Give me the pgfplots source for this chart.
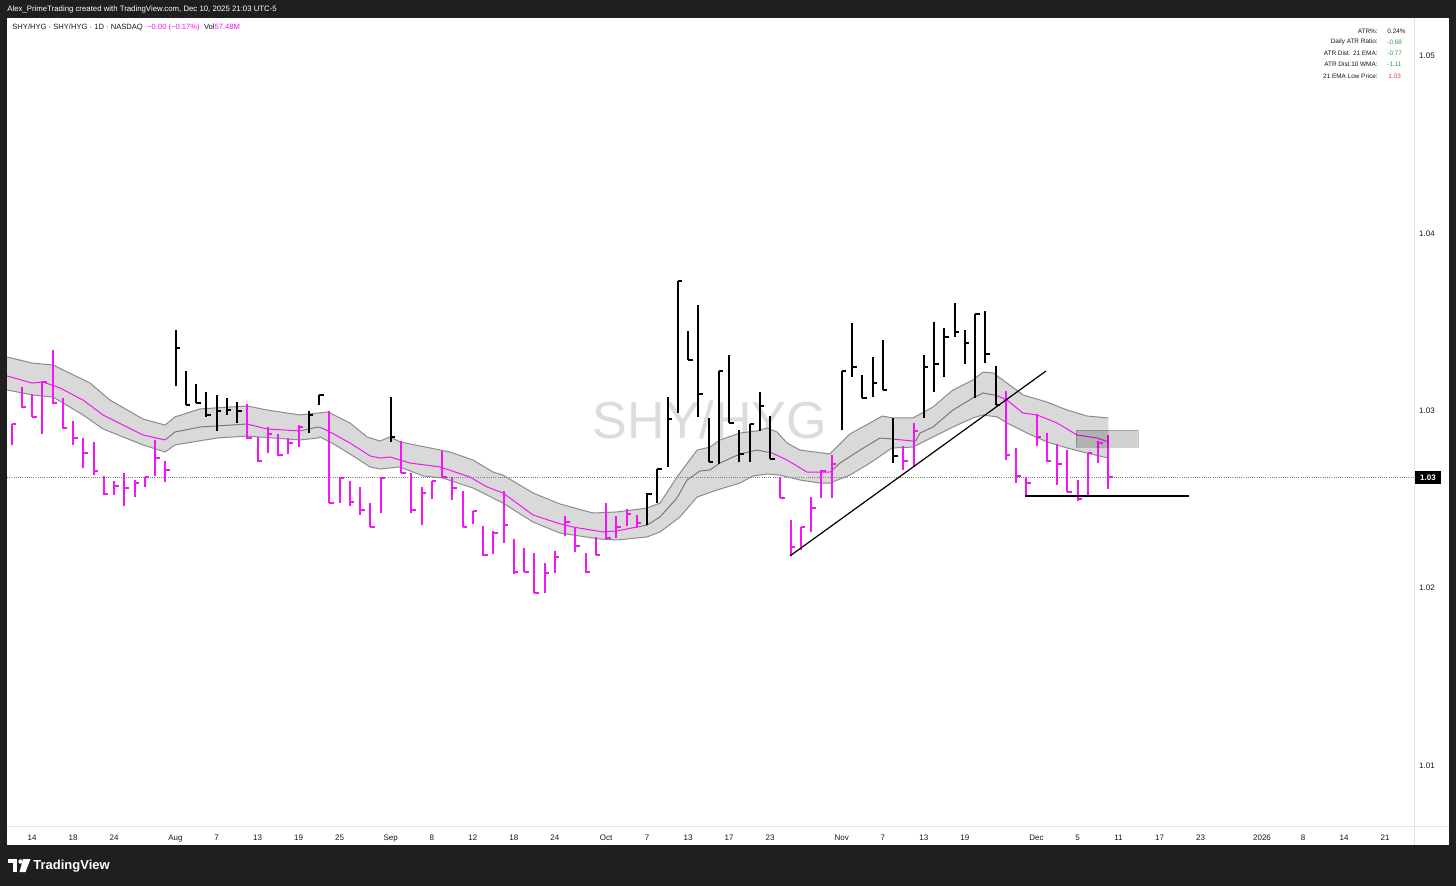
\documentclass[border=0pt]{standalone}
\usepackage{fontspec}
\setmainfont{Liberation Sans}
\usepackage{pgfplots}
\usepackage{pgfplotstable}
\pgfplotsset{compat=1.18}

\definecolor{frame}{HTML}{1F1F1F}
\definecolor{mag}{RGB}{243,22,243}
\definecolor{tvtext}{HTML}{131722}
\definecolor{bandfill}{HTML}{D9D9D9}
\definecolor{bandline}{HTML}{8C8C8C}
\definecolor{midgray}{HTML}{7A7A7A}
\definecolor{sepline}{HTML}{E0E3EB}
\definecolor{tvgreen}{HTML}{2E9E48}
\definecolor{tvred}{HTML}{F23645}
\definecolor{wmark}{HTML}{DCDCDC}

% close tick of an HLC bar
\pgfdeclareplotmark{cls}{%
  \pgfpathmoveto{\pgfqpoint{0pt}{0pt}}%
  \pgfpathlineto{\pgfqpoint{2.3pt}{0pt}}%
  \pgfusepathqstroke}

% bars: trading-day index, high, low, close
\pgfplotstableread{
i h l c
-2 1.02921 1.02803 1.02921
-1 1.03130 1.03011 1.03017
0 1.03090 1.02961 1.02961
1 1.03164 1.02865 1.03158
2 1.03338 1.03034 1.03039
3 1.03068 1.02893 1.02898
4 1.02938 1.02803 1.02842
5 1.02842 1.02673 1.02757
6 1.02820 1.02633 1.02656
7 1.02628 1.02521 1.02526
8 1.02600 1.02521 1.02571
9 1.02645 1.02459 1.02560
10 1.02605 1.02509 1.02588
11 1.02622 1.02566 1.02622
12 1.02831 1.02628 1.02729
13 1.02712 1.02594 1.02662
21 1.03034 1.02836 1.02842
22 1.02848 1.02707 1.02712
23 1.02904 1.02757 1.02865
24 1.02865 1.02741 1.02746
25 1.02842 1.02752 1.02814
26 1.02915 1.02791 1.02904
29 1.02994 1.02475 1.02475
30 1.02622 1.02475 1.02616
31 1.02600 1.02459 1.02481
32 1.02566 1.02408 1.02436
33 1.02475 1.02340 1.02340
34 1.02622 1.02419 1.02616
36 1.02825 1.02645 1.02645
37 1.02645 1.02419 1.02436
38 1.02566 1.02351 1.02532
39 1.02600 1.02498 1.02600
40 1.02769 1.02622 1.02622
41 1.02622 1.02492 1.02560
42 1.02543 1.02340 1.02340
43 1.02430 1.02357 1.02430
44 1.02346 1.02177 1.02182
45 1.02318 1.02188 1.02306
46 1.02543 1.02250 1.02351
47 1.02272 1.02075 1.02086
48 1.02222 1.02086 1.02086
49 1.02193 1.01968 1.01968
50 1.02137 1.01968 1.02081
51 1.02205 1.02081 1.02171
52 1.02402 1.02289 1.02368
53 1.02334 1.02199 1.02233
54 1.02193 1.02081 1.02086
55 1.02284 1.02182 1.02182
56 1.02475 1.02267 1.02278
57 1.02402 1.02278 1.02340
58 1.02442 1.02346 1.02413
59 1.02408 1.02334 1.02363
73 1.02622 1.02504 1.02504
74 1.02380 1.02177 1.02227
75 1.02340 1.02210 1.02340
76 1.02509 1.02312 1.02447
77 1.02662 1.02504 1.02656
78 1.02746 1.02504 1.02695
85 1.02797 1.02662 1.02712
86 1.02927 1.02679 1.02882
95 1.03107 1.02718 1.02746
96 1.02786 1.02588 1.02628
97 1.02622 1.02515 1.02588
98 1.02977 1.02797 1.02848
99 1.02870 1.02707 1.02712
100 1.02808 1.02577 1.02695
101 1.02774 1.02538 1.02538
102 1.02605 1.02487 1.02498
103 1.02757 1.02509 1.02757
104 1.02825 1.02701 1.02814
105 1.02859 1.02554 1.02622
}\magbars

\pgfplotstableread{
i h l c
14 1.03451 1.03135 1.03350
15 1.03220 1.03028 1.03028
16 1.03147 1.03039 1.03039
17 1.03102 1.02961 1.02972
18 1.03085 1.02882 1.02994
19 1.03068 1.02972 1.03000
20 1.03045 1.02927 1.02994
27 1.02994 1.02870 1.02972
28 1.03085 1.03028 1.03085
35 1.03073 1.02820 1.02848
60 1.02532 1.02351 1.02526
61 1.02667 1.02475 1.02667
62 1.03073 1.02679 1.02949
63 1.03728 1.02983 1.03728
64 1.03446 1.03282 1.03282
65 1.03592 1.02961 1.03090
66 1.02955 1.02707 1.02707
67 1.03220 1.02695 1.03220
68 1.03310 1.02927 1.02927
69 1.02887 1.02707 1.02752
70 1.02921 1.02707 1.02921
71 1.03102 1.02882 1.03023
72 1.02966 1.02724 1.02724
79 1.03220 1.02887 1.03220
80 1.03491 1.03186 1.03243
81 1.03197 1.03068 1.03068
82 1.03299 1.03073 1.03152
83 1.03395 1.03113 1.03113
84 1.02955 1.02701 1.02741
87 1.03310 1.02955 1.03243
88 1.03496 1.03102 1.03259
89 1.03462 1.03186 1.03412
90 1.03603 1.03412 1.03440
91 1.03451 1.03259 1.03378
92 1.03541 1.03068 1.03541
93 1.03558 1.03265 1.03316
94 1.03248 1.03028 1.03028
}\blkbars

% 21 EMA band edges
\pgfplotstableread{
i p
-2.44 1.03299
0 1.03265
1.07 1.03259
2.05 1.03254
5.66 1.03152
7.61 1.03056
10.83 1.02949
12.98 1.02915
13.95 1.02961
16.39 1.03006
20.98 1.03023
22.93 1.03000
26.15 1.02972
27.90 1.02983
28.88 1.02989
31.02 1.02927
32.68 1.02848
33.95 1.02825
34.93 1.02848
35.90 1.02820
38.83 1.02786
40.78 1.02763
43.02 1.02718
44.98 1.02650
45.95 1.02633
48.88 1.02532
51.51 1.02470
54.73 1.02419
57.07 1.02425
60.0 1.02447
61.27 1.02475
62.93 1.02622
64.88 1.02774
66.15 1.02791
67.12 1.02831
69.07 1.02870
70.73 1.02882
71.71 1.02898
72.68 1.02876
73.66 1.02814
74.93 1.02774
77.85 1.02752
79.80 1.02865
81.76 1.02927
82.93 1.02966
84.0 1.02955
85.95 1.02955
87.90 1.03017
89.85 1.03113
91.80 1.03169
92.78 1.03214
93.76 1.03209
95.12 1.03152
96.68 1.03085
99.02 1.03045
100.98 1.03000
102.93 1.02966
105 1.02955
}\bandup

\pgfplotstableread{
i p
-2.44 1.03113
0 1.03085
2.05 1.03073
4.98 1.02972
6.93 1.02893
10.83 1.02803
12.98 1.02763
13.95 1.02803
18.05 1.02842
20.98 1.02853
26.15 1.02831
27.90 1.02842
28.1 1.02848
29.27 1.02814
31.02 1.02752
32.98 1.02679
33.95 1.02667
35.90 1.02679
38.15 1.02628
40.10 1.02616
43.02 1.02560
45.95 1.02475
48.88 1.02368
51.51 1.02306
55.41 1.02272
57.07 1.02267
60.0 1.02284
61.27 1.02312
63.22 1.02397
64.88 1.02509
66.83 1.02549
69.07 1.02588
70.34 1.02628
71.71 1.02639
72.98 1.02633
74.93 1.02605
76.88 1.02588
77.85 1.02588
79.80 1.02633
81.76 1.02701
83.90 1.02786
85.95 1.02791
87.90 1.02848
89.85 1.02904
91.80 1.02955
92.78 1.02972
94.15 1.02961
95.12 1.02927
97.07 1.02870
99.02 1.02820
100.98 1.02786
102.93 1.02757
105 1.02729
}\bandlo

\begin{document}
\begin{tikzpicture}
\begin{scope}[x=0.5pt,y=-0.5pt]
  \fill[frame] (0,0) rectangle (1456,886);
  \fill[white] (7,18) rectangle (1449,845);
  \draw[sepline, line width=0.5pt] (7,826) -- (1449,826);
  \draw[sepline, line width=0.5pt] (1414,18) -- (1414,845);
  \node[font=\fontsize{26}{26}\selectfont, text=wmark] at (710,420) {SHY/HYG};
\end{scope}

\begin{axis}[
    at={(3.5pt,-413pt)}, anchor=south west,
    scale only axis, width=703.5pt, height=404pt,
    xmin=-2.44, xmax=134.83, ymin=1.006537, ymax=1.05211,
    axis line style={draw=none}, major tick length=0pt,
    xtick={0,4,8,14,18,22,26,30,35,39,43,47,51,56,60,64,68,72,79,83,87,91,98,102,106,110,114,120,124,128,132},
    xticklabels={14,18,24,Aug,7,13,19,25,Sep,8,12,18,24,Oct,7,13,17,23,Nov,7,13,19,Dec,5,11,17,23,2026,8,14,21},
    ytick={1.01,1.02,1.03,1.04,1.05},
    yticklabels={1.01,1.02,1.03,1.04,1.05},
    yticklabel pos=right,
    typeset ticklabels with strut,
    xticklabel style={font=\fontsize{4}{4}\selectfont, text=tvtext, anchor=center, yshift=-6.3pt},
    yticklabel style={font=\fontsize{4}{4}\selectfont, text=tvtext, anchor=center, xshift=6.5pt, yshift=-0.9pt},
  ]
  % 21 EMA band: upper edge forward, lower edge back
  \addplot[fill=bandfill, draw=none] coordinates {
    (-2.44,1.03299) (0,1.03265) (1.07,1.03259) (2.05,1.03254) (5.66,1.03152)
    (7.61,1.03056) (10.83,1.02949) (12.98,1.02915) (13.95,1.02961) (16.39,1.03006)
    (20.98,1.03023) (22.93,1.03000) (26.15,1.02972) (27.90,1.02983) (28.88,1.02989)
    (31.02,1.02927) (32.68,1.02848) (33.95,1.02825) (34.93,1.02848) (35.90,1.02820)
    (38.83,1.02786) (40.78,1.02763) (43.02,1.02718) (44.98,1.02650) (45.95,1.02633)
    (48.88,1.02532) (51.51,1.02470) (54.73,1.02419) (57.07,1.02425) (60.0,1.02447)
    (61.27,1.02475) (62.93,1.02622) (64.88,1.02774) (66.15,1.02791) (67.12,1.02831)
    (69.07,1.02870) (70.73,1.02882) (71.71,1.02898) (72.68,1.02876) (73.66,1.02814)
    (74.93,1.02774) (77.85,1.02752) (79.80,1.02865) (81.76,1.02927) (82.93,1.02966)
    (84.0,1.02955) (85.95,1.02955) (87.90,1.03017) (89.85,1.03113) (91.80,1.03169)
    (92.78,1.03214) (93.76,1.03209) (95.12,1.03152) (96.68,1.03085) (99.02,1.03045)
    (100.98,1.03000) (102.93,1.02966) (105,1.02955)
    (105,1.02729) (102.93,1.02757) (100.98,1.02786) (99.02,1.02820) (97.07,1.02870)
    (95.12,1.02927) (94.15,1.02961) (92.78,1.02972) (91.80,1.02955) (89.85,1.02904)
    (87.90,1.02848) (85.95,1.02791) (83.90,1.02786) (81.76,1.02701) (79.80,1.02633)
    (77.85,1.02588) (76.88,1.02588) (74.93,1.02605) (72.98,1.02633) (71.71,1.02639)
    (70.34,1.02628) (69.07,1.02588) (66.83,1.02549) (64.88,1.02509) (63.22,1.02397)
    (61.27,1.02312) (60.0,1.02284) (57.07,1.02267) (55.41,1.02272) (51.51,1.02306)
    (48.88,1.02368) (45.95,1.02475) (43.02,1.02560) (40.10,1.02616) (38.15,1.02628)
    (35.90,1.02679) (33.95,1.02667) (32.98,1.02679) (31.02,1.02752) (29.27,1.02814)
    (28.1,1.02848) (27.90,1.02842) (26.15,1.02831) (20.98,1.02853) (18.05,1.02842)
    (13.95,1.02803) (12.98,1.02763) (10.83,1.02803) (6.93,1.02893) (4.98,1.02972)
    (2.05,1.03073) (0,1.03085) (-2.44,1.03113)} -- cycle;
  \addplot[bandline, line width=0.5pt] table[x=i, y=p] {\bandup};
  \addplot[bandline, line width=0.5pt] table[x=i, y=p] {\bandlo};

  % EMA line, magenta under magenta bars, grey under black bars
  \addplot[mag, line width=0.5pt] coordinates {
    (-2.44,1.03192) (0,1.03152) (1.07,1.03158) (2.73,1.03124) (4.98,1.03056)
    (6.93,1.02972) (10.83,1.02859) (12.98,1.02831)};
  \addplot[midgray, line width=0.5pt] coordinates {
    (12.98,1.02831) (13.95,1.02876) (16.39,1.02904) (20.98,1.02921)};
  \addplot[mag, line width=0.5pt] coordinates {
    (20.98,1.02921) (22.93,1.02893) (26.15,1.02882)};
  \addplot[midgray, line width=0.5pt] coordinates {
    (26.15,1.02882) (27.90,1.02904) (28.3,1.02898)};
  \addplot[mag, line width=0.5pt] coordinates {
    (28.3,1.02898) (29.27,1.02870) (31.02,1.02814) (32.98,1.02741) (33.95,1.02729)
    (34.93,1.02735) (36.88,1.02701) (39.80,1.02679) (42.73,1.02622) (44.39,1.02566)
    (45.95,1.02532) (48.88,1.02408) (51.22,1.02363) (52.78,1.02340) (55.71,1.02312)
    (57.07,1.02318) (59,1.02340)};
  \addplot[midgray, line width=0.5pt] coordinates {
    (59,1.02340) (60.0,1.02351) (61.27,1.02397) (62.93,1.02504) (63.90,1.02605)
    (65.17,1.02656) (66.15,1.02662) (67.12,1.02701) (69.07,1.02752) (70.73,1.02774)
    (71.71,1.02763) (72,1.02763)};
  \addplot[mag, line width=0.5pt] coordinates {
    (72,1.02763) (73.66,1.02718) (75.61,1.02650) (77.85,1.02650) (78,1.02656)};
  \addplot[midgray, line width=0.5pt] coordinates {
    (78,1.02656) (78.83,1.02701) (80.78,1.02774) (82.73,1.02842) (84.0,1.02836)};
  \addplot[mag, line width=0.5pt] coordinates {
    (84.0,1.02836) (85.95,1.02825) (86.2,1.02825)};
  \addplot[midgray, line width=0.5pt] coordinates {
    (86.2,1.02825) (86.63,1.02870) (87.90,1.02904) (89.85,1.03000) (91.80,1.03068)
    (92.78,1.03096) (93.76,1.03085) (94,1.03085)};
  \addplot[mag, line width=0.5pt] coordinates {
    (94,1.03085) (95.12,1.03056) (96.68,1.02983) (98.05,1.02972) (100.0,1.02927)
    (101.95,1.02859) (103.90,1.02842) (105,1.02820)};

  % last price line
  \addplot[gray, line width=0.5pt, dash pattern=on 0.5pt off 0.6pt] coordinates {(-2.44,1.02622) (134.83,1.02622)};

  % HLC bars
  \addplot[only marks, mark=*, mark size=0pt, mark options={draw=none, fill=none},
      error bars/.cd, y dir=plus, y explicit, error mark=none,
      error bar style={mag, line width=1pt}]
    table[x=i, y=l, y error expr=\thisrow{h}-\thisrow{l}] {\magbars};
  \addplot[only marks, mark=cls, mag, mark options={line width=0.9pt}] table[x=i, y=c] {\magbars};
  \addplot[only marks, mark=*, mark size=0pt, mark options={draw=none, fill=none},
      error bars/.cd, y dir=plus, y explicit, error mark=none,
      error bar style={black, line width=1pt}]
    table[x=i, y=l, y error expr=\thisrow{h}-\thisrow{l}] {\blkbars};
  \addplot[only marks, mark=cls, black, mark options={line width=0.9pt}] table[x=i, y=c] {\blkbars};

  % drawings
  \addplot[black, line width=0.6pt] coordinates {(73.95,1.02177) (98.93,1.03220)};
  \addplot[black, line width=0.8pt] coordinates {(96.88,1.02515) (112.88,1.02515)};
  \addplot[fill=black, fill opacity=0.18, draw=black, draw opacity=0.2, line width=0.4pt]
    coordinates {(101.85,1.02887) (107.9,1.02887) (107.9,1.02791) (101.85,1.02791)} -- cycle;
\end{axis}

\begin{scope}[x=0.5pt,y=-0.5pt]
  % header
  \node[anchor=west, inner sep=0pt, text=white, font=\fontsize{3.9}{4}\selectfont]
    at (7,9.5) {Alex\_PrimeTrading created with TradingView.com, Dec 10, 2025 21:03 UTC-5};
  \node[anchor=west, inner sep=0pt, text=tvtext, font=\fontsize{3.8}{4}\selectfont]
    at (12,28) {SHY/HYG · SHY/HYG · 1D · NASDAQ\hspace{2.2pt}\textcolor{mag}{−0.00 (−0.17\%)}\hspace{2.2pt}Vol\textcolor{mag}{57.48M}};
  % info table
  \begin{scope}[every node/.style={inner sep=0pt, font=\fontsize{3.2}{3.4}\selectfont}]
    \node[anchor=east, text=tvtext] at (1378,31) {ATR\%:};
    \node[anchor=east, text=tvtext] at (1378,42) {Daily ATR Ratio:};
    \node[anchor=east, text=tvtext] at (1378,53) {ATR Dist. 21 EMA:};
    \node[anchor=east, text=tvtext] at (1378,64) {ATR Dist.10 WMA:};
    \node[anchor=east, text=tvtext] at (1378,76) {21 EMA Low Price:};
    \node[anchor=west, text=tvtext] at (1387,31) {0.24\%};
    \node[anchor=west, text=tvgreen] at (1387,42) {-0.68};
    \node[anchor=west, text=tvgreen] at (1387,53) {-0.77};
    \node[anchor=west, text=tvgreen] at (1387,64) {-1.11};
    \node[anchor=west, text=tvred] at (1388,76) {1.03};
  \end{scope}
  % last price label
  \fill[black] (1415,471) rectangle (1441,484);
  \node[inner sep=0pt, text=white, font=\bfseries\fontsize{4}{4}\selectfont] at (1428,477.5) {1.03};
  % footer logo
  \fill[white] (8,859) rectangle (17,863);
  \fill[white] (12.5,859) rectangle (17,872);
  \fill[white] (20.5,861.5) circle (2.2);
  \fill[white] (23,859) -- (30.5,859) -- (25.5,872) -- (19.5,872) -- cycle;
  \node[anchor=west, inner sep=0pt, text=white, font=\bfseries\fontsize{6.5}{7}\selectfont]
    at (33,866) {TradingView};
\end{scope}
\end{tikzpicture}
\end{document}
